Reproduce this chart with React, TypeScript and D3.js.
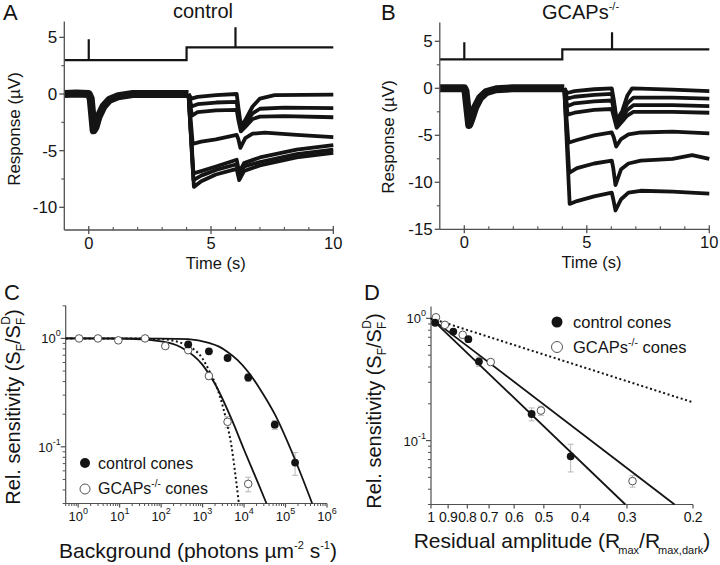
import React from "react";
import * as d3 from "d3";

type Pt = [number, number];

// ---------- Panels A / B : stimulus monitor (µV scale offset) ----------
const stimA: Pt[] = [[-1, 3.0], [0, 3.0], [0, 4.83], [0, 3.0], [4, 3.0], [4, 4.12], [6, 4.12], [6, 5.89], [6, 4.12], [10, 4.12]];
const stimB: Pt[] = [[-1, 3.08], [0, 3.08], [0, 4.9], [0, 3.08], [4, 3.08], [4, 4.15], [6.03, 4.15], [6.03, 5.96], [6.03, 4.15], [10, 4.15]];

// shared dark-adapted part of the responses (all traces overlap)
const preA: Pt[] = [[-1, 0], [-0.5, 0.05], [0, 0], [0.08, -0.4], [0.14, -1.8], [0.2, -3.2], [0.28, -2.9], [0.4, -2.0], [0.6, -1.1], [0.85, -0.5], [1.2, -0.2], [1.8, 0], [4.08, 0]];
const preB: Pt[] = [[-1, 0], [0, 0], [0.05, -0.3], [0.12, -2.0], [0.2, -3.9], [0.3, -3.2], [0.45, -2.0], [0.65, -1.0], [0.9, -0.4], [1.3, -0.1], [2, 0], [4.08, 0]];

// responses after background onset (one array per background)
const tracesA: Pt[][] = [
  [[4.08, 0], [4.2, -0.4], [4.45, -0.25], [5.2, -0.1], [6.05, 0], [6.12, -1.2], [6.22, -2.8], [6.4, -2.3], [6.7, -1.1], [7.0, -0.4], [7.6, -0.1], [10, -0.05]],
  [[4.08, 0], [4.2, -1.1], [4.45, -0.9], [5.2, -0.75], [6.05, -0.7], [6.12, -1.8], [6.22, -3.0], [6.4, -2.6], [6.7, -1.7], [7.0, -1.3], [8, -1.2], [10, -1.25]],
  [[4.08, 0], [4.22, -1.9], [4.45, -1.6], [5.2, -1.45], [6.05, -1.4], [6.12, -2.3], [6.22, -3.3], [6.4, -2.9], [6.7, -2.2], [7.0, -2.0], [8, -1.95], [10, -2.05]],
  [[4.08, 0], [4.25, -4.4], [4.6, -4.2], [5.2, -4.0], [6.05, -3.6], [6.12, -4.0], [6.2, -4.75], [6.4, -3.9], [6.7, -3.5], [7.2, -3.4], [8.5, -3.6], [10, -3.8]],
  [[4.08, 0], [4.28, -7.0], [4.6, -6.8], [5.2, -6.4], [6.05, -5.8], [6.15, -6.9], [6.35, -6.1], [7, -5.6], [8.5, -4.9], [10, -4.5]],
  [[4.08, 0], [4.28, -7.6], [4.6, -7.2], [5.2, -6.7], [6.05, -6.2], [6.15, -7.3], [6.35, -6.4], [7, -6.0], [8.5, -5.3], [10, -4.9]],
  [[4.08, 0], [4.3, -8.2], [4.6, -7.7], [5.2, -7.1], [6.05, -6.6], [6.15, -7.6], [6.35, -6.8], [7, -6.3], [8.5, -5.6], [10, -5.2]],
];
const tracesB: Pt[][] = [
  [[4.08, 0], [4.2, -0.5], [4.5, -0.3], [5.3, -0.1], [6.02, 0], [6.1, -1.2], [6.22, -3.4], [6.45, -2.4], [6.65, -0.8], [6.85, 0], [8.5, -0.15], [10, -0.3]],
  [[4.08, 0], [4.2, -1.1], [4.5, -0.9], [5.3, -0.7], [6.02, -0.6], [6.1, -1.6], [6.22, -3.6], [6.45, -2.7], [6.65, -1.6], [6.9, -1.0], [8.5, -1.0], [10, -1.1]],
  [[4.08, 0], [4.2, -1.9], [4.5, -1.6], [5.3, -1.4], [6.02, -1.3], [6.1, -2.2], [6.22, -3.9], [6.45, -3.1], [6.65, -2.3], [6.9, -1.8], [8.5, -1.8], [10, -1.9]],
  [[4.08, 0], [4.22, -2.8], [4.5, -2.6], [5.3, -2.3], [6.02, -2.2], [6.1, -3.0], [6.22, -4.2], [6.45, -3.5], [6.65, -2.9], [6.9, -2.5], [8.5, -2.5], [10, -2.6]],
  [[4.08, 0], [4.25, -5.8], [4.6, -5.5], [5.3, -5.0], [6.02, -4.7], [6.1, -5.2], [6.2, -6.2], [6.4, -5.4], [6.7, -4.9], [7.2, -4.7], [8.5, -4.6], [10, -4.8]],
  [[4.08, 0], [4.28, -9.0], [4.6, -8.5], [5.3, -8.0], [6.02, -7.7], [6.08, -8.5], [6.17, -10.3], [6.4, -8.6], [6.7, -8.0], [7.2, -7.7], [8.5, -7.5], [9.3, -7.1], [10, -7.5]],
  [[4.08, 0], [4.3, -12.3], [4.6, -12.0], [5.3, -11.5], [6.02, -11.1], [6.08, -11.8], [6.17, -13.0], [6.4, -11.8], [6.7, -11.1], [7.2, -10.9], [8.5, -11.0], [10, -11.2]],
];
const timeMajor = [0, 5, 10];
const timeMinor = [1, 2, 3, 4, 6, 7, 8, 9];
const respMajorA = [5, 0, -5, -10];
const respMinorA = [2.5, -2.5, -7.5];
const respMajorB = [5, 0, -5, -10, -15];
const respMinorB = [2.5, -2.5, -7.5, -12.5];

// ---------- Panel C ----------
const bgControl = [450, 1420, 4000, 12600, 55000, 170000];
const sensControl = [0.88, 0.76, 0.66, 0.436, 0.16, 0.0716];
const errControl = [0.02, 0.02, 0.025, 0.035, 0.015, 0.017];
const bgGcaps = [1.05, 3, 9.3, 41, 126, 450, 1420, 4000, 12600];
const sensGcaps = [1.0, 1.0, 0.96, 1.0, 0.85, 0.78, 0.45, 0.17, 0.0455];
const errGcaps = [0.02, 0.02, 0.02, 0.02, 0.03, 0.03, 0.03, 0.02, 0.007];
// fitted curves
const fitCtrlX = [0.5, 10, 100, 450, 1420, 2500, 4000, 7000, 12600, 25000, 55000, 170000, 440000];
const fitCtrlY = [1, 1, 0.997, 0.985, 0.91, 0.84, 0.75, 0.63, 0.49, 0.335, 0.2, 0.076, 0.03];
const fitGcapsX = [0.5, 10, 100, 300, 1000, 2000, 5000, 10000, 20000, 34800];
const fitGcapsY = [1, 0.995, 0.94, 0.83, 0.57, 0.38, 0.18, 0.094, 0.05, 0.03];
const fitDotX = [0.5, 10, 100, 450, 1000, 1420, 2630, 3800, 5000, 6300, 7500];
const fitDotY = [1, 1, 0.985, 0.85, 0.65, 0.51, 0.29, 0.17, 0.1, 0.052, 0.03];
const bgDecades = [1, 10, 100, 1000, 10000, 100000, 1000000];

// ---------- Panel D ----------
const ampControl = [0.975, 0.872, 0.795, 0.745, 0.539, 0.424];
const sensControlD = [0.92, 0.78, 0.676, 0.444, 0.165, 0.0744];
const errControlD = [0.02, 0.02, 0.02, 0.04, 0.02, 0.019];
const ampGcaps = [0.97, 0.918, 0.823, 0.693, 0.509, 0.29];
const sensGcapsD = [1.02, 0.885, 0.733, 0.439, 0.176, 0.0466];
const errGcapsD = [0.02, 0.02, 0.02, 0.02, 0.015, 0.005];
const lineCtrlD: Pt[] = [[1, 1], [0.303, 0.03]];
const lineGcapsD: Pt[] = [[1, 1], [0.224, 0.03]];
const lineDotD: Pt[] = [[1, 1], [0.2, 0.2055]];
const ampTicks = [1, 0.9, 0.8, 0.7, 0.6, 0.5, 0.4, 0.3, 0.2];

const FONT = "'Liberation Sans', Arial, Helvetica, sans-serif";
const INK = "#141414";
const AXIS = "#505050";

const sup = (k: number) => String(k);

function logMinor(lo: number, hi: number): number[] {
  const out: number[] = [];
  for (let e = -3; e <= 7; e++) {
    for (let m = 2; m <= 9; m++) {
      const v = m * Math.pow(10, e);
      if (v >= lo * 0.999 && v <= hi * 1.001) out.push(v);
    }
  }
  return out;
}

function TracePanel(props: {
  x: d3.ScaleLinear<number, number>;
  y: d3.ScaleLinear<number, number>;
  stim: Pt[];
  pre: Pt[];
  post: Pt[][];
  yMajor: number[];
  yMinor: number[];
}) {
  const { x, y, stim, pre, post, yMajor, yMinor } = props;
  const line = d3.line<Pt>().x((d) => x(d[0])).y((d) => y(d[1]));
  const [x0, x1] = x.range();
  const [yb, yt] = y.range();
  return (
    <g>
      <path d={line(stim) || ""} fill="none" stroke={INK} strokeWidth={2.2} />
      <path d={line(pre) || ""} fill="none" stroke={INK} strokeWidth={8} strokeLinejoin="round" />
      {post.map((tr, i) => (
        <path key={i} d={line(tr) || ""} fill="none" stroke={INK} strokeWidth={3.8} strokeLinejoin="round" />
      ))}
      <line x1={x0} x2={x0} y1={yt} y2={yb} stroke={AXIS} strokeWidth={1.3} />
      <line x1={x0} x2={x1} y1={yb} y2={yb} stroke={AXIS} strokeWidth={1.3} />
      {yMajor.map((v) => (
        <g key={"ym" + v}>
          <line x1={x0 - 5} x2={x0} y1={y(v)} y2={y(v)} stroke={AXIS} strokeWidth={1.3} />
          <text x={x0 - 7} y={y(v) + 6} textAnchor="end" fontSize={17} fill={INK}>
            {String(v)}
          </text>
        </g>
      ))}
      {yMinor.map((v) => (
        <line key={"yn" + v} x1={x0 - 3} x2={x0} y1={y(v)} y2={y(v)} stroke={AXIS} strokeWidth={1.1} />
      ))}
      {timeMajor.map((v) => (
        <g key={"xm" + v}>
          <line x1={x(v)} x2={x(v)} y1={yb - 4} y2={yb + 4} stroke={AXIS} strokeWidth={1.3} />
          <text x={x(v)} y={yb + 19} textAnchor="middle" fontSize={16.5} fill={INK}>
            {String(v)}
          </text>
        </g>
      ))}
      {timeMinor.map((v) => (
        <line key={"xn" + v} x1={x(v)} x2={x(v)} y1={yb - 3} y2={yb} stroke={AXIS} strokeWidth={1.1} />
      ))}
      <text x={(x0 + x1) / 2 + 17} y={yb + 39} textAnchor="middle" fontSize={16.5} fill={INK}>
        Time (s)
      </text>
    </g>
  );
}

function LogYAxis(props: { y: d3.ScaleLogarithmic<number, number>; x0: number; majors: number[] }) {
  const { y, x0, majors } = props;
  const [lo, hi] = y.domain();
  return (
    <g>
      {majors.map((v) => {
        const e = Math.round(Math.log10(v));
        return (
          <g key={"M" + v}>
            <line x1={x0 - 5} x2={x0} y1={y(v)} y2={y(v)} stroke={AXIS} strokeWidth={1.2} />
            <text x={x0 - 5} y={y(v) + 5} textAnchor="end" fontSize={13} fill={INK}>
              10<tspan fontSize={9} dy={-7}>{sup(e)}</tspan>
            </text>
          </g>
        );
      })}
      {logMinor(lo, hi).map((v) => (
        <line key={"m" + v} x1={x0 - 3} x2={x0} y1={y(v)} y2={y(v)} stroke={AXIS} strokeWidth={1} />
      ))}
    </g>
  );
}

function ErrBars(props: { xs: number[]; ys: number[]; es: number[]; x: (v: number) => number; y: (v: number) => number }) {
  const { xs, ys, es, x, y } = props;
  return (
    <g>
      {xs.map((xv, i) => {
        const px = x(xv);
        const a = y(ys[i] + es[i]);
        const b = y(Math.max(ys[i] - es[i], 0.0301));
        return (
          <g key={i} stroke="#b8b8b8" strokeWidth={1}>
            <line x1={px} x2={px} y1={a} y2={b} />
            <line x1={px - 3} x2={px + 3} y1={a} y2={a} />
            <line x1={px - 3} x2={px + 3} y1={b} y2={b} />
          </g>
        );
      })}
    </g>
  );
}

function SensLabel(props: { x: number; y: number }) {
  return (
    <text transform={`translate(${props.x},${props.y}) rotate(-90)`} textAnchor="middle" fontSize={20} fill={INK}>
      Rel. sensitivity (S<tspan fontSize={12} dy={5}>F</tspan>
      <tspan dy={-5}>/S</tspan>
      <tspan fontSize={12} dy={5}>F</tspan>
      <tspan fontSize={12} dx={-7} dy={-15}>D</tspan>
      <tspan dy={10}>)</tspan>
    </text>
  );
}

export default function App() {
  const xA = d3.scaleLinear().domain([-1, 10]).range([64.3, 333.3]);
  const yA = d3.scaleLinear().domain([-12, 6.4]).range([230, 21.5]);
  const xB = d3.scaleLinear().domain([-1, 10]).range([439.8, 709.3]);
  const yB = d3.scaleLinear().domain([-15, 7]).range([229.3, 22.5]);
  const xC = d3.scaleLog().domain([0.5, 1e6]).range([65.7, 327]);
  const yC = d3.scaleLog().domain([0.03, 2]).range([503.5, 305.8]);
  const xD = d3.scaleLog().domain([1, 0.2]).range([431, 693]);
  const yD = d3.scaleLog().domain([0.03, 1.25]).range([504.5, 306.5]);

  const curveC = d3
    .line<[number, number]>()
    .x((d) => xC(d[0]))
    .y((d) => yC(d[1]))
    .curve(d3.curveMonotoneX);
  const lineDg = d3
    .line<Pt>()
    .x((d) => xD(d[0]))
    .y((d) => yD(d[1]));

  const zipC = (xs: number[], ys: number[]) => xs.map((v, i) => [v, ys[i]] as [number, number]);

  const cx0 = xC.range()[0];
  const cx1 = xC.range()[1];
  const cyb = yC.range()[0];
  const cyt = yC.range()[1];
  const dx0 = xD.range()[0];
  const dx1 = xD.range()[1];
  const dyb = yD.range()[0];
  const dyt = yD.range()[1];

  return (
    <svg
      width={720}
      height={565}
      viewBox="0 0 720 565"
      style={{ position: "absolute", left: 0, top: 0, background: "#fff", fontFamily: FONT }}
    >
      <rect x={0} y={0} width={720} height={565} fill="#fff" />

      {/* Panel letters and titles */}
      <text x={3} y={20} fontSize={22} fill={INK}>A</text>
      <text x={381} y={20} fontSize={22} fill={INK}>B</text>
      <text x={4} y={300} fontSize={22} fill={INK}>C</text>
      <text x={364} y={300} fontSize={22} fill={INK}>D</text>
      <text x={203} y={18} fontSize={20} textAnchor="middle" fill={INK}>control</text>
      <text x={542} y={19} fontSize={20} fill={INK}>
        GCAPs<tspan fontSize={11} dy={-9}>-/-</tspan>
      </text>

      {/* Panel A */}
      <TracePanel x={xA} y={yA} stim={stimA} pre={preA} post={tracesA} yMajor={respMajorA} yMinor={respMinorA} />
      <text transform="translate(20,129) rotate(-90)" textAnchor="middle" fontSize={17} fill={INK}>
        Response (µV)
      </text>

      {/* Panel B */}
      <TracePanel x={xB} y={yB} stim={stimB} pre={preB} post={tracesB} yMajor={respMajorB} yMinor={respMinorB} />
      <text transform="translate(394,137) rotate(-90)" textAnchor="middle" fontSize={17} fill={INK}>
        Response (µV)
      </text>

      {/* Panel C */}
      <g>
        <line x1={cx0} x2={cx0} y1={cyt} y2={cyb} stroke={AXIS} strokeWidth={1.2} />
        <line x1={cx0} x2={cx1} y1={cyb} y2={cyb} stroke={AXIS} strokeWidth={1.2} />
        <LogYAxis y={yC} x0={cx0} majors={[1, 0.1]} />
        {bgDecades.map((v) => (
          <g key={"cx" + v}>
            <line x1={xC(v)} x2={xC(v)} y1={cyb} y2={cyb + 4} stroke={AXIS} strokeWidth={1.2} />
            <text x={xC(v)} y={cyb + 17} textAnchor="middle" fontSize={13} fill={INK}>
              10<tspan fontSize={9} dy={-7}>{sup(Math.round(Math.log10(v)))}</tspan>
            </text>
          </g>
        ))}
        {logMinor(0.5, 1e6).map((v) => (
          <line key={"cxm" + v} x1={xC(v)} x2={xC(v)} y1={cyb} y2={cyb + 2.5} stroke={AXIS} strokeWidth={1} />
        ))}
        <ErrBars xs={bgControl} ys={sensControl} es={errControl} x={xC} y={yC} />
        <ErrBars xs={bgGcaps} ys={sensGcaps} es={errGcaps} x={xC} y={yC} />
        <path d={curveC(zipC(fitDotX, fitDotY)) || ""} fill="none" stroke={INK} strokeWidth={2} strokeDasharray="2,2.6" />
        <path d={curveC(zipC(fitGcapsX, fitGcapsY)) || ""} fill="none" stroke={INK} strokeWidth={1.8} />
        <path d={curveC(zipC(fitCtrlX, fitCtrlY)) || ""} fill="none" stroke={INK} strokeWidth={1.8} />
        {bgGcaps.map((v, i) => (
          <circle key={"go" + i} cx={xC(v)} cy={yC(sensGcaps[i])} r={3.8} fill="#fff" stroke="#555" strokeWidth={1} />
        ))}
        {bgControl.map((v, i) => (
          <circle key={"cf" + i} cx={xC(v)} cy={yC(sensControl[i])} r={3.9} fill={INK} />
        ))}
        {/* legend */}
        <circle cx={85} cy={463} r={5} fill={INK} />
        <text x={98} y={468.5} fontSize={16} fill={INK}>control cones</text>
        <circle cx={85} cy={489} r={5} fill="#fff" stroke="#555" strokeWidth={1} />
        <text x={98} y={494} fontSize={16} fill={INK}>
          GCAPs<tspan fontSize={10} dy={-7}>-/-</tspan>
          <tspan dy={7}> cones</tspan>
        </text>
        <SensLabel x={20} y={407} />
        <text x={198} y={558} textAnchor="middle" fontSize={21} fill={INK}>
          Background (photons µm<tspan fontSize={11} dy={-9}>-2</tspan>
          <tspan dy={9}> s</tspan>
          <tspan fontSize={11} dy={-9}>-1</tspan>
          <tspan dy={9}>)</tspan>
        </text>
      </g>

      {/* Panel D */}
      <g>
        <line x1={dx0} x2={dx0} y1={dyt} y2={dyb} stroke={AXIS} strokeWidth={1.2} />
        <line x1={dx0} x2={dx1} y1={dyb} y2={dyb} stroke={AXIS} strokeWidth={1.2} />
        <LogYAxis y={yD} x0={dx0} majors={[1, 0.1]} />
        {ampTicks.map((v) => (
          <g key={"dx" + v}>
            <line x1={xD(v)} x2={xD(v)} y1={dyb} y2={dyb + 4} stroke={AXIS} strokeWidth={1.2} />
            <text x={xD(v)} y={dyb + 17} textAnchor="middle" fontSize={14} letterSpacing={-0.4} fill={INK}>
              {String(v)}
            </text>
          </g>
        ))}
        <ErrBars xs={ampControl} ys={sensControlD} es={errControlD} x={xD} y={yD} />
        <ErrBars xs={ampGcaps} ys={sensGcapsD} es={errGcapsD} x={xD} y={yD} />
        <path d={lineDg(lineDotD) || ""} fill="none" stroke={INK} strokeWidth={2} strokeDasharray="2,2.6" />
        <path d={lineDg(lineGcapsD) || ""} fill="none" stroke={INK} strokeWidth={1.8} />
        <path d={lineDg(lineCtrlD) || ""} fill="none" stroke={INK} strokeWidth={1.8} />
        {ampGcaps.map((v, i) => (
          <circle key={"dgo" + i} cx={xD(v)} cy={yD(sensGcapsD[i])} r={3.8} fill="#fff" stroke="#555" strokeWidth={1} />
        ))}
        {ampControl.map((v, i) => (
          <circle key={"dcf" + i} cx={xD(v)} cy={yD(sensControlD[i])} r={3.9} fill={INK} />
        ))}
        {/* legend */}
        <circle cx={557} cy={322} r={5.5} fill={INK} />
        <text x={573} y={327.5} fontSize={16.5} fill={INK}>control cones</text>
        <circle cx={557} cy={347} r={5.5} fill="#fff" stroke="#555" strokeWidth={1} />
        <text x={573} y={353} fontSize={16.5} fill={INK}>
          GCAPs<tspan fontSize={10.5} dy={-7}>-/-</tspan>
          <tspan dy={7}> cones</tspan>
        </text>
        <SensLabel x={381} y={411} />
        <text x={562} y={548} textAnchor="middle" fontSize={21} fill={INK}>
          Residual amplitude (R<tspan fontSize={11} dx={-2} dy={6}>max</tspan>
          <tspan dy={-6}>/R</tspan>
          <tspan fontSize={11} dx={-2} dy={6}>max,dark</tspan>
          <tspan dy={-6}>)</tspan>
        </text>
      </g>
    </svg>
  );
}
